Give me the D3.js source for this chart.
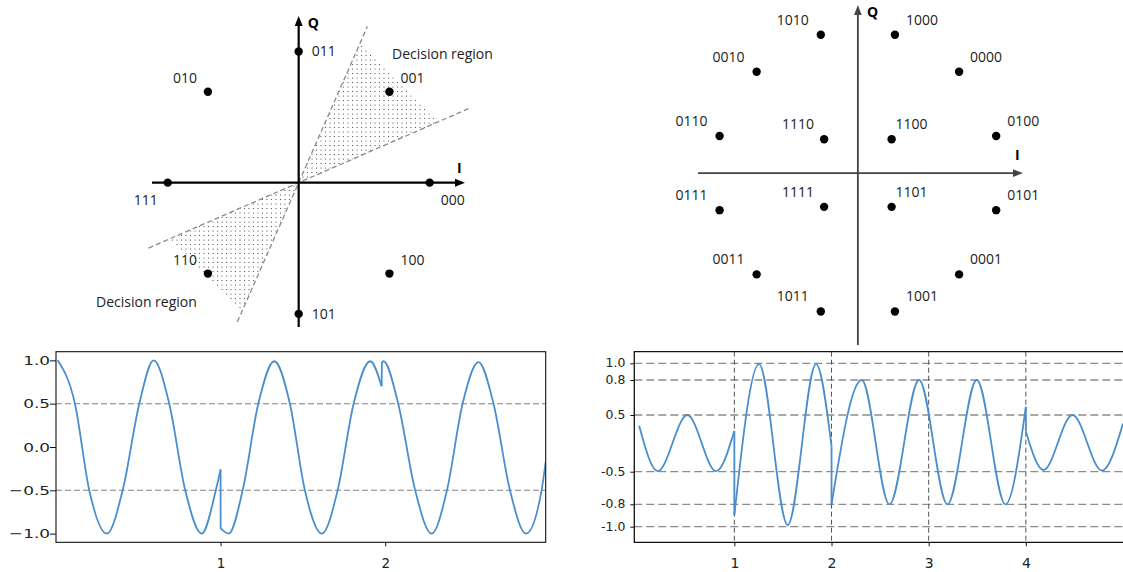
<!DOCTYPE html>
<html>
<head>
<meta charset="utf-8">
<script src="https://cdn.jsdelivr.net/npm/d3@7"></script>
<style>
  body { margin: 0; background: #fff; }
  svg { display: block; }
</style>
</head>
<body>
<svg id="fig" width="1123" height="572"></svg>
<script>
// ---------------- data ----------------
// 8-PSK constellation (angle in degrees, amplitude)
const pskLabels = ["000", "001", "011", "010", "111", "110", "101", "100"];
const pskAngles = [0, 45, 90, 135, 180, 225, 270, 315];
const pskRadius = [1, 0.98, 1, 0.98, 1, 0.98, 1, 0.98];
// decision boundaries around symbol 001 (and its mirror 110), degrees
const boundaryAngles = [23.5, 66.2];

// 16-APSK constellation: 12 outer points, 4 inner points
const apskLabels = ["0100", "0000", "1000", "1010", "0010", "0110", "0111", "0011",
                    "1011", "1001", "0001", "0101", "1100", "1110", "1111", "1101"];
const apskAngles = [15, 45, 75, 105, 135, 165, 195, 225, 255, 285, 315, 345, 45, 135, 225, 315];
const apskRadius = [3, 3, 3, 3, 3, 3, 3, 3, 3, 3, 3, 3, 1, 1, 1, 1];

// 8-PSK waveform, one array per symbol (time, amplitude)
const pskTime = [
  [0.01, 0.115, 0.202, 0.309, 0.405, 0.506, 0.593, 0.688, 0.785, 0.885, 0.971, 1.0],
  [1.0, 1.049, 1.134, 1.229, 1.326, 1.421, 1.512, 1.615, 1.711, 1.808, 1.909, 1.978],
  [1.98, 1.99, 2.079, 2.182, 2.282, 2.375, 2.470, 2.567, 2.658, 2.758, 2.855, 2.950, 2.975]
];
const pskWave = [
  [1.0, 0.5, -0.5, -1.0, -0.5, 0.5, 1.0, 0.5, -0.5, -1.0, -0.5, -0.26],
  [-0.94, -1.0, -0.5, 0.5, 0.99, 0.5, -0.5, -1.0, -0.5, 0.5, 0.99, 0.70],
  [0.98, 0.99, 0.5, -0.5, -1.0, -0.5, 0.5, 0.98, 0.5, -0.5, -1.0, -0.5, -0.17]
];
const pskYTicks = [1.0, 0.5, 0.0, -0.5, -1.0];
const pskXTicks = [1, 2];
const pskRefLevels = [0.5, -0.5];

// 16-APSK waveform, one array per continuous piece (time, amplitude)
const apskTime = [
  [0.02, 0.211, 0.516, 0.811, 1.0],
  [1.0, 1.254, 1.549, 1.841, 2.0],
  [2.0, 2.311, 2.596, 2.901, 3.193, 3.495, 3.79, 4.0],
  [4.0, 4.181, 4.48, 4.783, 5.0]
];
const apskWave = [
  [0.31, -0.49, 0.5, -0.49, 0.22],
  [-0.895, 0.99, -0.985, 0.99, -0.05],
  [-0.8, 0.8, -0.8, 0.8, -0.8, 0.8, -0.8, 0.57],
  [0.21, -0.47, 0.5, -0.48, 0.35]
];
const apskYTicks = [1.0, 0.8, 0.5, -0.5, -0.8, -1.0];
const apskXTicks = [1, 2, 3, 4];

// ---------------- drawing ----------------
const svg = d3.select("#fig");
const defs = svg.append("defs");
const rad = a => a * Math.PI / 180;
const LABEL_FONT = "'Open Sans', 'Noto Sans', sans-serif";
const TICK_FONT = "'DejaVu Sans', sans-serif";

function arrowHead(g, x, y, dir, len, half, color) {
  // dir: "up" or "right"; (x, y) is the tip
  const pts = dir === "up"
    ? [[x, y], [x - half, y + len], [x + half, y + len]]
    : [[x, y], [x - len, y - half], [x - len, y + half]];
  g.append("path").attr("d", "M" + pts.join("L") + "Z").attr("fill", color);
}

// dotted fill for the decision regions
const pat = defs.append("pattern").attr("id", "dots")
  .attr("patternUnits", "userSpaceOnUse").attr("width", 9).attr("height", 9);
pat.append("circle").attr("cx", 1.5).attr("cy", 1.5).attr("r", 0.55).attr("fill", "#333");
pat.append("circle").attr("cx", 6).attr("cy", 6).attr("r", 0.55).attr("fill", "#333");
pat.append("circle").attr("cx", 6).attr("cy", 1.5).attr("r", 0.55).attr("fill", "#333");
pat.append("circle").attr("cx", 1.5).attr("cy", 6).attr("r", 0.55).attr("fill", "#333");

// ===== 8-PSK constellation =====
{
  const x = d3.scaleLinear().domain([-1.12, 1.27]).range([152, 465]);
  const y = d3.scaleLinear().domain([-1.1, 1.27]).range([327, 16]);
  const polar = (r, a) => [x(r * Math.cos(rad(a))), y(r * Math.sin(rad(a)))];
  const g = svg.append("g");

  // shaded wedges (upper one around 001, lower mirror around 110)
  [[1.16, 0], [1.08, 180]].forEach(([r, turn]) => {
    const pts = [polar(0, 0), polar(r, boundaryAngles[1] + turn), polar(r, boundaryAngles[0] + turn)];
    g.append("path").attr("d", "M" + pts.join("L") + "Z").attr("fill", "url(#dots)");
  });

  // dashed boundary lines through the origin
  const reach = [[-1.25, 1.43], [-1.16, 1.30]];
  boundaryAngles.forEach((a, i) => {
    const p0 = polar(reach[i][0], a), p1 = polar(reach[i][1], a);
    g.append("line")
      .attr("x1", p0[0]).attr("y1", p0[1]).attr("x2", p1[0]).attr("y2", p1[1])
      .attr("stroke", "#8a8a8a").attr("stroke-width", 1.3).attr("stroke-dasharray", "5,3");
  });

  // I / Q axes
  const x0 = x(0), y0 = y(0);
  g.append("line").attr("x1", x(-1.12)).attr("x2", x(1.27) - 8).attr("y1", y0).attr("y2", y0)
    .attr("stroke", "#000").attr("stroke-width", 2.2);
  g.append("line").attr("x1", x0).attr("x2", x0).attr("y1", y(-1.1)).attr("y2", y(1.27) + 8)
    .attr("stroke", "#000").attr("stroke-width", 2.2);
  arrowHead(g, x(1.27), y0, "right", 10, 4, "#000");
  arrowHead(g, x0, y(1.27), "up", 10, 4, "#000");
  g.append("text").attr("x", x0 + 9).attr("y", 28).text("Q")
    .attr("font-family", LABEL_FONT).attr("font-weight", "bold").attr("font-size", 14);
  g.append("text").attr("x", x(1.27) - 8).attr("y", y0 - 10).text("I")
    .attr("font-family", LABEL_FONT).attr("font-weight", "bold").attr("font-size", 14);

  // symbols and their bit labels
  pskLabels.forEach((lab, i) => {
    const a = pskAngles[i];
    const [px, py] = polar(pskRadius[i], a);
    g.append("circle").attr("cx", px).attr("cy", py).attr("r", 4.2).attr("fill", "#000");
    const c = Math.round(Math.cos(rad(a)) * 1000), s = Math.round(Math.sin(rad(a)) * 1000);
    let lx, ly, anchor;
    if (c === 0) { lx = px + 13; ly = py + 5; anchor = "start"; }
    else if (s === 0) { ly = py + 22; if (c > 0) { lx = px + 11; anchor = "start"; } else { lx = px - 10; anchor = "end"; } }
    else { ly = py - 9; if (c > 0) { lx = px + 11; anchor = "start"; } else { lx = px - 11; anchor = "end"; } }
    g.append("text").attr("x", lx).attr("y", ly).attr("text-anchor", anchor).text(lab)
      .attr("font-family", LABEL_FONT).attr("font-size", 14).attr("fill", "#222");
  });

  g.append("text").attr("x", 392).attr("y", 59).text("Decision region")
    .attr("font-family", LABEL_FONT).attr("font-size", 14).attr("fill", "#222");
  g.append("text").attr("x", 96).attr("y", 307).text("Decision region")
    .attr("font-family", LABEL_FONT).attr("font-size", 14).attr("fill", "#222");
}

// ===== 16-APSK constellation =====
{
  const x = d3.scaleLinear().domain([-3.35, 3.46]).range([698, 1023]);
  const y = d3.scaleLinear().domain([-3.6, 3.52]).range([345, 5]);
  const g = svg.append("g");
  const axisColor = "#444";
  const x0 = x(0), y0 = y(0);
  g.append("line").attr("x1", x(-3.35)).attr("x2", x(3.46) - 8).attr("y1", y0).attr("y2", y0)
    .attr("stroke", axisColor).attr("stroke-width", 1.8);
  g.append("line").attr("x1", x0).attr("x2", x0).attr("y1", y(-3.6)).attr("y2", y(3.52) + 8)
    .attr("stroke", axisColor).attr("stroke-width", 1.8);
  arrowHead(g, x(3.46), y0, "right", 10, 3.8, axisColor);
  arrowHead(g, x0, y(3.52), "up", 10, 3.8, axisColor);
  g.append("text").attr("x", x0 + 9).attr("y", 17).text("Q")
    .attr("font-family", LABEL_FONT).attr("font-weight", "bold").attr("font-size", 14);
  g.append("text").attr("x", x(3.46) - 8).attr("y", y0 - 13).text("I")
    .attr("font-family", LABEL_FONT).attr("font-weight", "bold").attr("font-size", 14);

  apskLabels.forEach((lab, i) => {
    const a = apskAngles[i], r = apskRadius[i];
    const px = x(r * Math.cos(rad(a))), py = y(r * Math.sin(rad(a)));
    g.append("circle").attr("cx", px).attr("cy", py).attr("r", 4.2).attr("fill", "#000");
    const right = Math.cos(rad(a)) > 0;
    const inner = r < 2;
    const lx = right ? px + (inner ? 4 : 11) : px - (inner ? 10 : 12);
    g.append("text").attr("x", lx).attr("y", py - 10)
      .attr("text-anchor", right ? "start" : "end").text(lab)
      .attr("font-family", LABEL_FONT).attr("font-size", 14).attr("fill", "#222");
  });
}

// shared helper: draw a piecewise waveform with vertical jumps between pieces
function drawWave(g, times, waves, x, y, color) {
  const line = d3.line().x(d => x(d[0])).y(d => y(d[1])).curve(d3.curveMonotoneX);
  const pieces = times.map((ts, k) => ts.map((t, j) => [t, waves[k][j]]));
  pieces.forEach((p, k) => {
    g.append("path").attr("d", line(p)).attr("fill", "none")
      .attr("stroke", color).attr("stroke-width", 1.8).attr("stroke-linejoin", "round");
    if (k < pieces.length - 1) {
      const a = p[p.length - 1], b = pieces[k + 1][0];
      g.append("line").attr("x1", x(a[0])).attr("y1", y(a[1])).attr("x2", x(b[0])).attr("y2", y(b[1]))
        .attr("stroke", color).attr("stroke-width", 1.8);
    }
  });
}

const waveColor = "#4a8ecd";

// ===== 8-PSK waveform =====
{
  const L = 56, R = 545.7, T = 351.7, B = 542.3;
  const x = d3.scaleLinear().domain([0, 2.975]).range([L, R]);
  const y = d3.scaleLinear().domain([-1.1, 1.1]).range([B, T]);
  const g = svg.append("g");

  pskRefLevels.forEach(v => {
    g.append("line").attr("x1", L).attr("x2", R).attr("y1", y(v)).attr("y2", y(v))
      .attr("stroke", "#808080").attr("stroke-width", 1.1).attr("stroke-dasharray", "6,3");
  });

  defs.append("clipPath").attr("id", "clipL").append("rect")
    .attr("x", L).attr("y", T).attr("width", R - L).attr("height", B - T);
  drawWave(g.append("g").attr("clip-path", "url(#clipL)"), pskTime, pskWave, x, y, waveColor);

  g.append("rect").attr("x", L).attr("y", T).attr("width", R - L).attr("height", B - T)
    .attr("fill", "none").attr("stroke", "#111").attr("stroke-width", 1.1);

  const ya = g.append("g").attr("transform", `translate(${L},0)`)
    .call(d3.axisLeft(y).tickValues(pskYTicks).tickSize(6).tickFormat(d3.format(".1f")));
  ya.select(".domain").remove();
  ya.selectAll("line").attr("stroke", "#111");
  ya.selectAll("text").attr("x", -6 / 1.3).attr("transform", "scale(1.3,1)")
    .attr("font-family", TICK_FONT).attr("font-size", 13).attr("fill", "#222");

  const xa = g.append("g").attr("transform", `translate(0,${B})`)
    .call(d3.axisBottom(x).tickValues(pskXTicks).tickSize(4).tickFormat(d3.format("d")));
  xa.select(".domain").remove();
  xa.selectAll("line").attr("stroke", "#111");
  xa.selectAll("text").attr("y", 26).attr("dy", 0)
    .attr("font-family", TICK_FONT).attr("font-size", 13.5).attr("fill", "#222");
}

// ===== 16-APSK waveform =====
{
  const L = 634.3, R = 1123, T = 351.7, B = 542.3;
  const x = d3.scaleLinear().domain([-0.03, 5.0]).range([L, R]);
  // level axis with its own spacing between the marked amplitudes
  const y = d3.scaleLinear().domain([-1.0, -0.8, -0.5, 0.5, 0.8, 1.0])
    .range([526.7, 504.3, 471.7, 415, 380, 363.3]);
  const g = svg.append("g");

  apskYTicks.forEach(v => {
    g.append("line").attr("x1", L).attr("x2", R).attr("y1", y(v)).attr("y2", y(v))
      .attr("stroke", "#8c8c8c").attr("stroke-width", 1.3).attr("stroke-dasharray", "8,4");
  });
  apskXTicks.forEach(t => {
    g.append("line").attr("x1", x(t)).attr("x2", x(t)).attr("y1", T).attr("y2", B)
      .attr("stroke", "#555").attr("stroke-width", 1).attr("stroke-dasharray", "5,3");
  });

  defs.append("clipPath").attr("id", "clipR").append("rect")
    .attr("x", L).attr("y", T).attr("width", R - L).attr("height", B - T);
  drawWave(g.append("g").attr("clip-path", "url(#clipR)"), apskTime, apskWave, x, y, waveColor);

  g.append("path").attr("d", `M${R + 2},${T}H${L}V${B}H${R + 2}`)
    .attr("fill", "none").attr("stroke", "#111").attr("stroke-width", 1.3);

  const ya = g.append("g").attr("transform", `translate(${L},0)`)
    .call(d3.axisLeft(y).tickValues(apskYTicks).tickSize(4)
      .tickFormat(d => (d < 0 ? "-" : "") + Math.abs(d).toFixed(1)));
  ya.select(".domain").remove();
  ya.selectAll("line").attr("stroke", "#111");
  ya.selectAll("text").attr("x", -9 / 1.08).attr("transform", "scale(1.08,1)")
    .attr("font-family", TICK_FONT).attr("font-size", 11.5).attr("fill", "#222");

  const xa = g.append("g").attr("transform", `translate(0,${B})`)
    .call(d3.axisBottom(x).tickValues(apskXTicks).tickSize(4).tickFormat(d3.format("d")));
  xa.select(".domain").remove();
  xa.selectAll("line").attr("stroke", "#111");
  xa.selectAll("text").attr("y", 26).attr("dy", 0)
    .attr("font-family", TICK_FONT).attr("font-size", 14).attr("fill", "#222");
}
</script>
</body>
</html>
